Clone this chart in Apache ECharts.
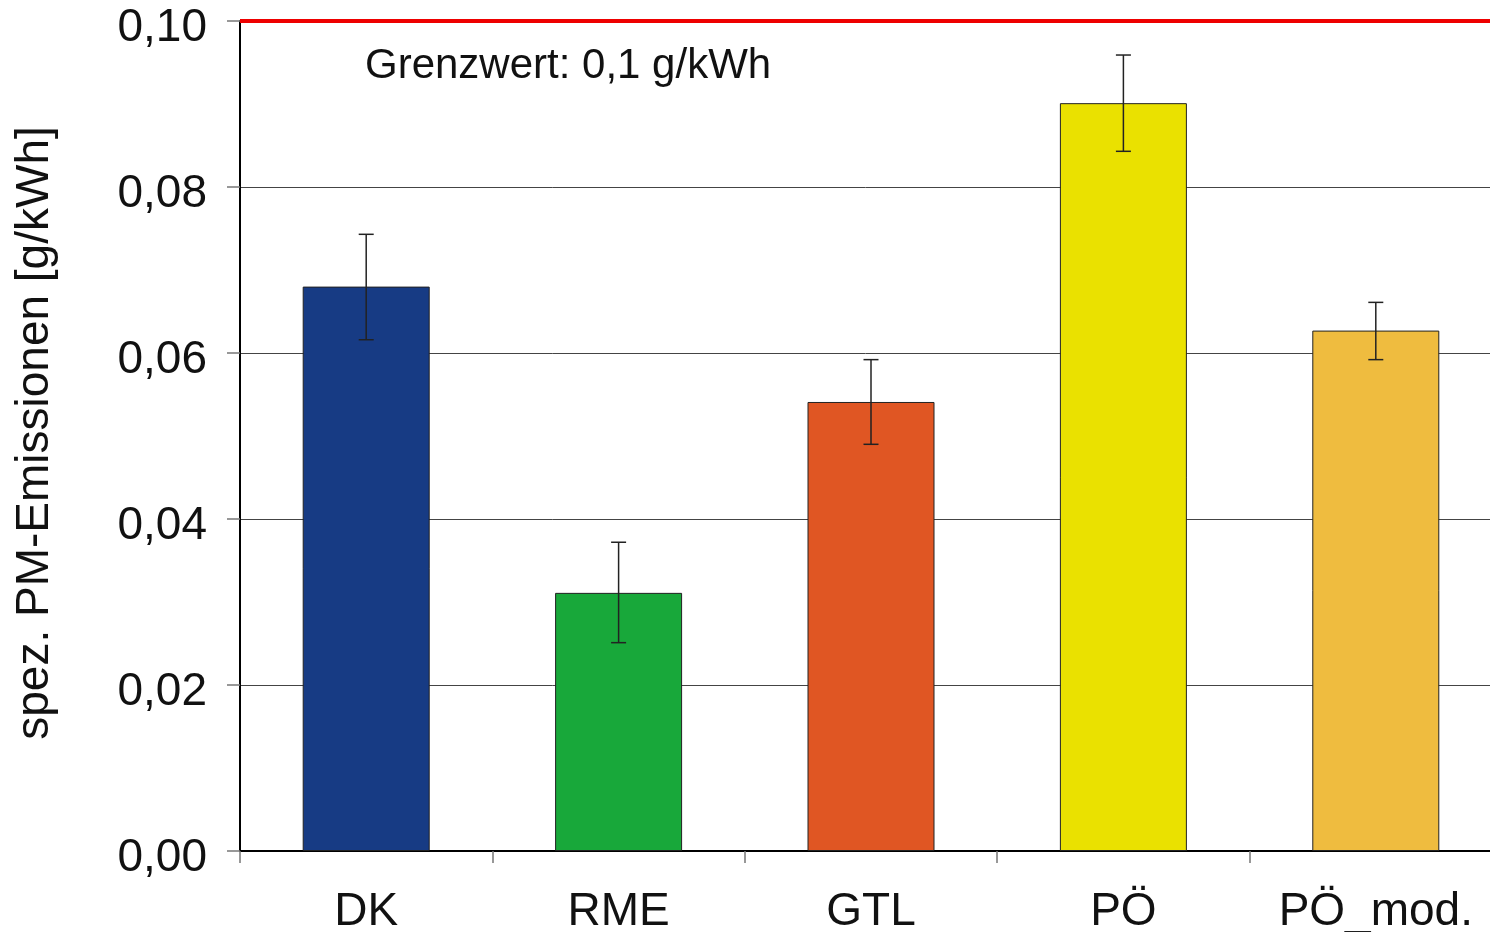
<!DOCTYPE html>
<html>
<head>
<meta charset="utf-8">
<script src="https://cdn.jsdelivr.net/npm/echarts@6/dist/echarts.min.js"></script>
<style>
html, body { margin: 0; padding: 0; background: #fff; }
#chart { width: 1490px; height: 932px; }
</style>
</head>
<body>
<div id="chart"></div>
<script>
var categories = ["DK", "RME", "GTL", "PÖ", "PÖ_mod."];
var values = [0.0680, 0.0311, 0.0541, 0.0901, 0.0627];
var errLow = [0.0616, 0.0251, 0.0490, 0.0843, 0.0592];
var errHigh = [0.0743, 0.0372, 0.0592, 0.0959, 0.0661];
var barColors = ["#173b84", "#18a83a", "#e05623", "#eae100", "#efbc3f"];
var limitValue = 0.1;

var fontName = "Liberation Sans";
var chart = echarts.init(document.getElementById("chart"));

// Fehlerbalken als custom series
function renderErrorBar(params, api) {
    var x = api.value(0);
    var lo = api.coord([x, api.value(1)]);
    var hi = api.coord([x, api.value(2)]);
    var half = 7.5;
    var style = { stroke: "#222", lineWidth: 1.5 };
    return {
        type: "group",
        children: [
            { type: "line", shape: { x1: hi[0], y1: hi[1], x2: lo[0], y2: lo[1] }, style: style },
            { type: "line", shape: { x1: hi[0] - half, y1: hi[1], x2: hi[0] + half, y2: hi[1] }, style: style },
            { type: "line", shape: { x1: lo[0] - half, y1: lo[1], x2: lo[0] + half, y2: lo[1] }, style: style }
        ]
    };
}

chart.setOption({
    backgroundColor: "#fff",
    animation: false,
    textStyle: { fontFamily: fontName },
    grid: { left: 240, top: 21, right: -12, bottom: 81, outerBoundsMode: "none", containLabel: false },
    xAxis: {
        type: "category",
        data: categories,
        axisLine: { lineStyle: { color: "#000", width: 2 } },
        axisTick: { show: true, interval: 0, length: 12, lineStyle: { color: "#777", width: 1.5 } },
        axisLabel: { interval: 0, color: "#111", fontSize: 46, fontFamily: fontName, margin: 38 }
    },
    yAxis: {
        type: "value",
        min: 0,
        max: 0.1,
        interval: 0.02,
        name: "spez. PM-Emissionen [g/kWh]",
        nameLocation: "middle",
        nameGap: 182,
        nameTextStyle: { color: "#111", fontSize: 46, fontFamily: fontName, padding: [0, 0, 0, 6] },
        axisLine: { show: true, lineStyle: { color: "#000", width: 2 } },
        axisTick: { show: true, length: 13, lineStyle: { color: "#777", width: 1.5 } },
        splitLine: { lineStyle: { color: "#444", width: 1 } },
        axisLabel: {
            color: "#111",
            fontSize: 46,
            fontFamily: fontName,
            margin: 33,
            verticalAlign: "top",
            lineHeight: 14,
            formatter: function (v) {
                return v.toFixed(2).replace(".", ",");
            }
        }
    },
    graphic: [{
        type: "text",
        left: 365,
        top: 45,
        style: { text: "Grenzwert: 0,1 g/kWh", fill: "#111", font: "42px " + fontName }
    }],
    series: [{
        type: "bar",
        barWidth: 127,
        data: values.map(function (v, i) {
            return { value: v, itemStyle: { color: barColors[i] } };
        }),
        itemStyle: { borderColor: "#222", borderWidth: 1 },
        markLine: {
            silent: true,
            symbol: "none",
            label: { show: false },
            lineStyle: { color: "#ee0000", width: 4, type: "solid" },
            data: [{ yAxis: limitValue }]
        },
        z: 2
    }, {
        type: "custom",
        renderItem: renderErrorBar,
        data: categories.map(function (c, i) {
            return [i, errLow[i], errHigh[i]];
        }),
        z: 5
    }]
});
</script>
</body>
</html>
